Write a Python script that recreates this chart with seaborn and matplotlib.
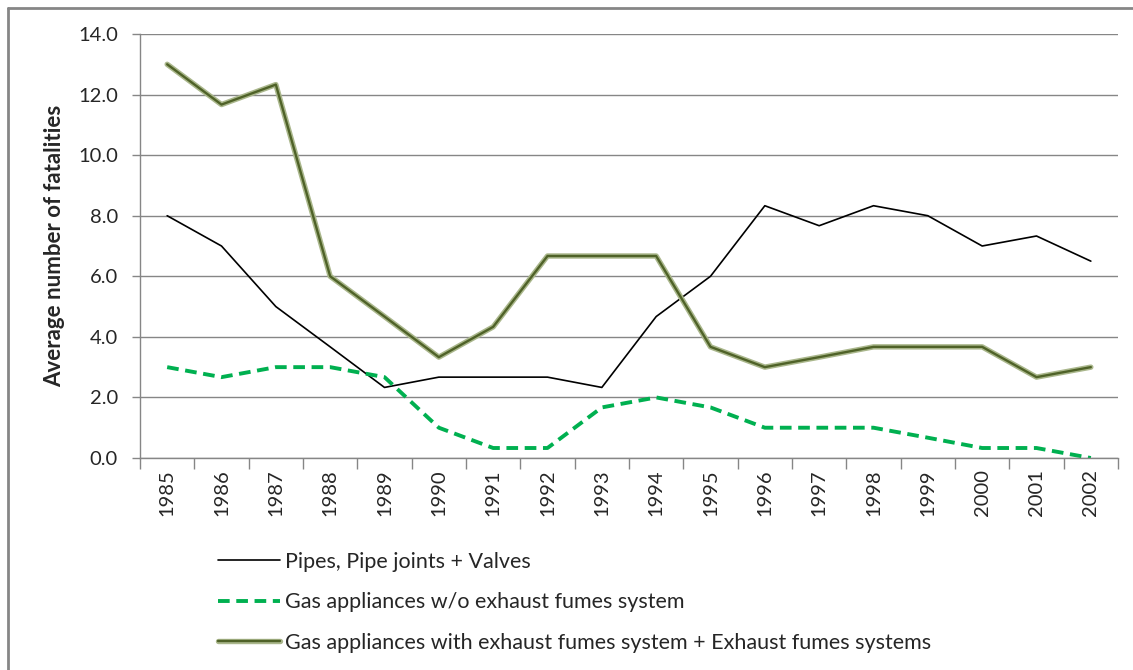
import seaborn as sns
import matplotlib.pyplot as plt
import matplotlib.patheffects as pe
from matplotlib.lines import Line2D
import numpy as np

years = list(range(1985, 2003))
pipes = [8.0, 7.0, 5.0, 3.67, 2.33, 2.67, 2.67, 2.67, 2.33, 4.67,
         6.0, 8.33, 7.67, 8.33, 8.0, 7.0, 7.33, 6.5]
no_exhaust = [3.0, 2.67, 3.0, 3.0, 2.67, 1.0, 0.33, 0.33, 1.67, 2.0,
              1.67, 1.0, 1.0, 1.0, 0.67, 0.33, 0.33, 0.0]
with_exhaust = [13.0, 11.67, 12.33, 6.0, 4.67, 3.33, 4.33, 6.67, 6.67, 6.67,
                3.67, 3.0, 3.33, 3.67, 3.67, 3.67, 2.67, 3.0]

labels = ["Pipes, Pipe joints + Valves",
          "Gas appliances w/o exhaust fumes system",
          "Gas appliances with exhaust fumes system + Exhaust fumes systems"]

sns.set_style("white")
plt.rcParams['font.family'] = ['Lato', 'DejaVu Sans']

grey = "#868686"
W, H = 1133, 670
fig = plt.figure(figsize=(W / 100, H / 100), dpi=100)
ax = fig.add_axes([140 / W, 1 - 458 / H, (1118 - 140) / W, (458 - 34) / H])

sns.lineplot(x=years, y=pipes, ax=ax, color="black", linewidth=1.2, label=labels[0])
sns.lineplot(x=years, y=no_exhaust, ax=ax, color="#00b050", linewidth=2.8,
             label=labels[1], dashes=False)
ax.lines[-1].set_dashes([3.0, 1.7])
sns.lineplot(x=years, y=with_exhaust, ax=ax, color="#4f6228", linewidth=1.7,
             label=labels[2],
             path_effects=[pe.Stroke(linewidth=3.9, foreground="#aab78c"), pe.Normal()])

ax.set_xlim(1984.5, 2002.5)
ax.set_ylim(0, 14)
ax.set_yticks(np.arange(0, 14.1, 2))
ax.set_yticklabels([f"{v:.1f}" for v in np.arange(0, 14.1, 2)])
ax.yaxis.grid(True, color=grey, linewidth=1)
ax.set_axisbelow(True)

# category boundaries as major ticks, labels on minor ticks
ax.set_xticks(np.arange(1984.5, 2003, 1))
ax.set_xticklabels([])
ax.set_xticks(years, minor=True)
ax.set_xticklabels([str(y) for y in years], minor=True, rotation=90)
ax.tick_params(axis="x", which="major", length=8, color=grey, width=1, direction="out")
ax.tick_params(axis="x", which="minor", length=0, pad=8, labelsize=14.5)
ax.tick_params(axis="y", length=6, color=grey, width=1, direction="out", pad=10, labelsize=14.5)
ax.tick_params(bottom=True, left=True)

for s in ["top", "right"]:
    ax.spines[s].set_visible(False)
for s in ["left", "bottom"]:
    ax.spines[s].set_color(grey)
    ax.spines[s].set_linewidth(1)

ax.set_ylabel("Average number of fatalities", fontsize=16, fontweight="bold")
ax.yaxis.set_label_coords((65 - 140) / 978, 0.5)

handles, labs = ax.get_legend_handles_labels()
ax.get_legend().remove()
fig.legend(handles, labs, loc="upper left", bbox_to_anchor=(209 / W, 1 - 543 / H),
           frameon=False, fontsize=15.5, handlelength=2.9, handletextpad=0.25,
           labelspacing=0.95, borderaxespad=0)

# chart border (left and top visible)
fig.add_artist(Line2D([8 / W, 8 / W], [0, 1 - 8 / H], color=grey, linewidth=2,
                      transform=fig.transFigure))
fig.add_artist(Line2D([8 / W, 1], [1 - 8 / H, 1 - 8 / H], color=grey, linewidth=2,
                      transform=fig.transFigure))

fig.savefig("out.png", dpi=100)
